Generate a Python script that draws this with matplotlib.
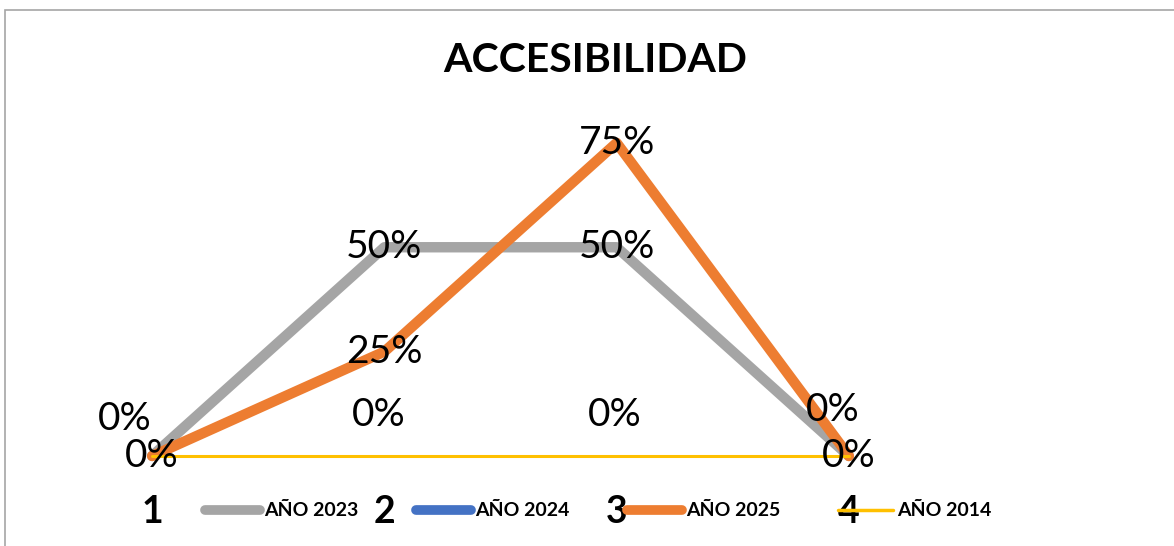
import matplotlib
matplotlib.use("Agg")
import matplotlib.pyplot as plt
from matplotlib.patches import Rectangle
import numpy as np

categories = ["1", "2", "3", "4"]
series_names = ["AÑO 2023", "AÑO 2024", "AÑO 2025", "AÑO 2014"]
anio_2023 = [0.0, 0.50, 0.50, 0.0]
anio_2024 = [np.nan, np.nan, np.nan, np.nan]
anio_2025 = [0.0, 0.25, 0.75, 0.0]
anio_2014 = [0.0, 0.0, 0.0, 0.0]

colors = ["#A5A5A5", "#4472C4", "#ED7D31", "#FFC000"]
widths = [7.5, 7.5, 7.5, 2.2]

W, H = 1174, 546
fig = plt.figure(figsize=(W / 100, H / 100), dpi=100)
font = "Lato"

# chart border
fig.patches.append(Rectangle((4.5 / W, -0.1), 1.2, (H - 9.5) / H + 0.1,
                             transform=fig.transFigure, fill=False,
                             edgecolor="#A6A6A6", lw=1.2))

ax = fig.add_axes([36 / W, (H - 456) / H, 929 / W, 334 / H])
ax.set_xlim(0.5, 4.5)
ax.set_ylim(0, 0.8)
ax.axis("off")

x = np.arange(1, len(categories) + 1)
all_series = [anio_2023, anio_2024, anio_2025, anio_2014]
handles = []
for vals, name, c, lw in zip(all_series, series_names, colors, widths):
    h, = ax.plot(x, vals, color=c, lw=lw, solid_capstyle="round",
                 solid_joinstyle="round", label=name, clip_on=False)
    handles.append(h)

lab_fs = 28
def put(xv, yv, txt, dx=0, dy=0):
    ax.annotate(txt, (xv, yv), xytext=(dx * 0.72, dy * 0.72),
                textcoords="offset points", ha="center", va="center",
                fontsize=lab_fs, family=font, color="black", zorder=10,
                annotation_clip=False)

# centered labels for AÑO 2023 and AÑO 2025
for xi, v in zip(x, anio_2023):
    if v > 0:
        put(xi, v, f"{v:.0%}")
for xi, v in zip(x, anio_2025):
    put(xi, v, f"{v:.0%}")
# AÑO 2014 labels above the points
offs = [(-27, -37), (-6, -41), (-2, -41), (-16, -46)]
for xi, v, (dx, dy) in zip(x, anio_2014, offs):
    put(xi, v, f"{v:.0%}", dx, -dy)

# category labels
for xi, c in zip(x, categories):
    ax.annotate(c, (xi, 0), xytext=(0, -(512 - 456) * 0.72),
                textcoords="offset points", ha="center", va="center",
                fontsize=27, fontweight="bold", family=font,
                annotation_clip=False)

fig.text(595 / W, 1 - 61 / H, "ACCESIBILIDAD", ha="center", va="center",
         fontsize=29.5, fontweight="bold", family=font)

leg = fig.legend(handles=handles, loc="center left",
                 bbox_to_anchor=(205 / W, 1 - 511 / H), ncol=4, frameon=False,
                 prop={"family": font, "weight": "bold", "size": 14},
                 handlelength=2.85, handletextpad=0.2, columnspacing=2.95,
                 borderpad=0, borderaxespad=0)
for lh in leg.get_lines():
    lh.set_solid_capstyle("round")
leg.get_lines()[0].set_linewidth(7)
leg.get_lines()[1].set_linewidth(7)
leg.get_lines()[2].set_linewidth(7)
leg.get_lines()[3].set_linewidth(2.5)

fig.savefig("out.png", dpi=100, facecolor="white")
